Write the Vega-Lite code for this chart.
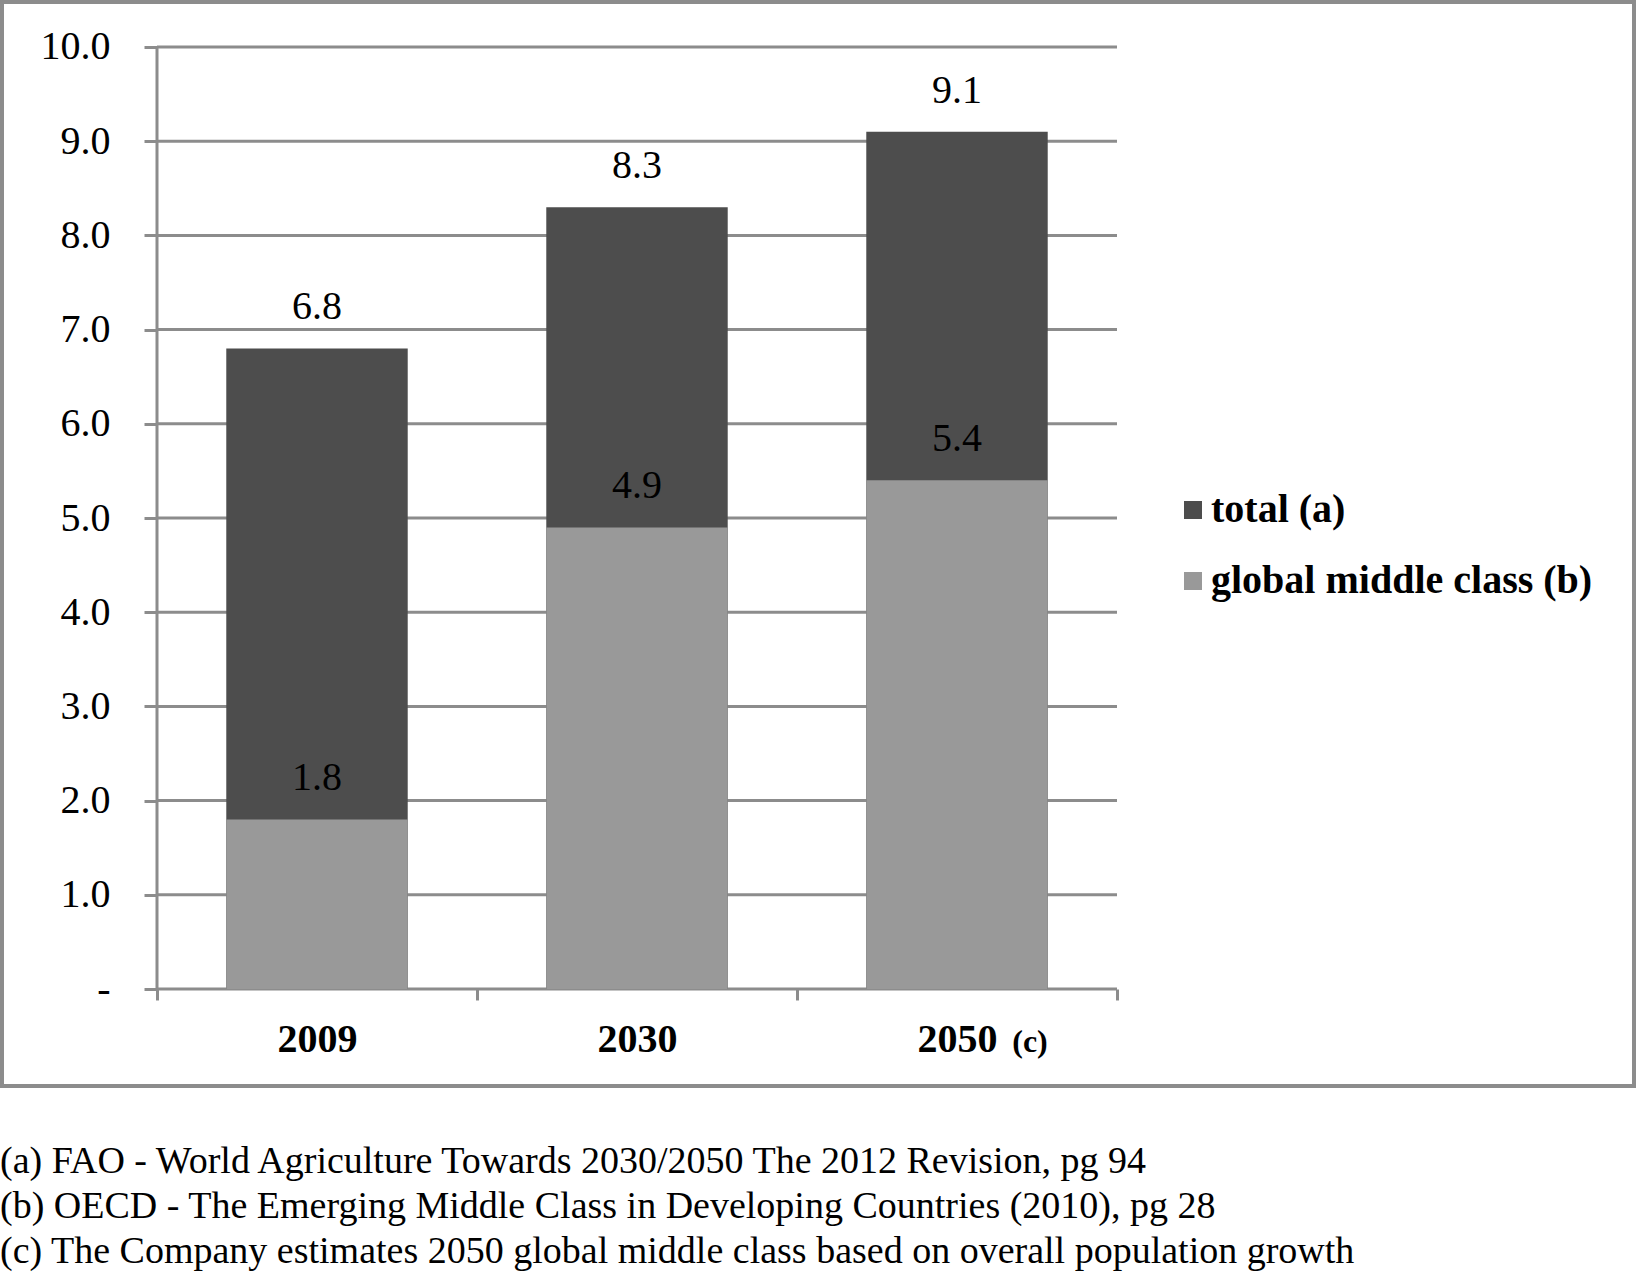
{
  "$schema": "https://vega.github.io/schema/vega-lite/v6.json",
  "autosize": "none",
  "width": 1632,
  "height": 1084,
  "padding": {"left": 2, "top": 2, "right": 3, "bottom": 189},
  "background": "white",
  "config": {
    "view": {"stroke": "#8c8c8c", "strokeWidth": 4},
    "font": "Liberation Serif",
    "axis": {
      "domain": false,
      "grid": false,
      "labelFont": "Liberation Serif",
      "labelColor": "black",
      "labelFontSize": 40,
      "tickColor": "#8c8c8c",
      "tickWidth": 3
    },
    "axisX": {"tickSize": 11, "labelFontWeight": "bold", "labelPadding": 19, "labelAngle": 0},
    "axisY": {"tickSize": 13, "labelPadding": 34}
  },
  "title": {
    "text": [
      "(a) FAO - World Agriculture Towards 2030/2050 The 2012 Revision, pg 94",
      "(b) OECD - The Emerging Middle Class in Developing Countries (2010), pg 28",
      "(c) The Company estimates 2050 global middle class based on overall population growth"
    ],
    "orient": "bottom",
    "anchor": "start",
    "frame": "group",
    "font": "Liberation Serif",
    "fontSize": 38,
    "fontWeight": "normal",
    "color": "black",
    "lineHeight": 45,
    "offset": 57,
    "dx": -2
  },
  "datasets": {
    "bars": [
      {"year": "2009", "series": "total (a)", "value": 6.8},
      {"year": "2030", "series": "total (a)", "value": 8.3},
      {"year": "2050", "series": "total (a)", "value": 9.1},
      {"year": "2009", "series": "global middle class (b)", "value": 1.8},
      {"year": "2030", "series": "global middle class (b)", "value": 4.9},
      {"year": "2050", "series": "global middle class (b)", "value": 5.4}
    ],
    "grid": [
      {"v": 0}, {"v": 1}, {"v": 2}, {"v": 3}, {"v": 4}, {"v": 5},
      {"v": 6}, {"v": 7}, {"v": 8}, {"v": 9}, {"v": 10}
    ]
  },
  "layer": [
    {
      "data": {"name": "grid"},
      "mark": {"type": "rule", "color": "#8c8c8c", "strokeWidth": 3},
      "encoding": {
        "y": {
          "field": "v",
          "type": "quantitative",
          "scale": {"domain": [-1.0297, 10.4777], "nice": false, "zero": false},
          "axis": {
            "orient": "left",
            "offset": -155,
            "values": [0, 1, 2, 3, 4, 5, 6, 7, 8, 9, 10],
            "labelExpr": "datum.value == 0 ? '-' : format(datum.value, '.1f')",
            "title": null
          }
        },
        "x": {
          "datum": "2009",
          "type": "nominal",
          "bandPosition": 0,
          "scale": {"type": "band", "domain": ["2009", "2030", "2050"], "range": [155, 1115], "paddingInner": 0, "paddingOuter": 0}
        },
        "x2": {"datum": "2050", "bandPosition": 1}
      }
    },
    {
      "data": {"name": "bars"},
      "mark": {"type": "bar", "width": {"band": 0.567}},
      "encoding": {
        "x": {
          "field": "year",
          "type": "nominal",
          "sort": null,
          "scale": {"type": "band", "domain": ["2009", "2030", "2050"], "range": [155, 1115], "paddingInner": 0, "paddingOuter": 0},
          "axis": {"orient": "bottom", "offset": -97, "tickBand": "extent", "title": null}
        },
        "y": {"field": "value", "type": "quantitative", "stack": null, "title": null},
        "y2": {"datum": 0},
        "color": {
          "field": "series",
          "type": "nominal",
          "scale": {"domain": ["total (a)", "global middle class (b)"], "range": ["#4d4d4d", "#999999"]},
          "legend": {
            "orient": "none",
            "legendX": 1171,
            "legendY": 488,
            "title": null,
            "labelFont": "Liberation Serif",
            "labelFontSize": 40,
            "labelFontWeight": "bold",
            "labelColor": "black",
            "labelLimit": 0,
            "labelOffset": -2,
            "symbolType": "square",
            "symbolSize": 324,
            "symbolStrokeWidth": 0,
            "rowPadding": 31
          }
        }
      }
    },
    {
      "data": {"name": "grid"},
      "transform": [{"filter": "datum.v == 0"}],
      "mark": {"type": "rule", "color": "#8c8c8c", "strokeWidth": 3},
      "encoding": {
        "x": {"datum": "2009", "type": "nominal", "bandPosition": 0},
        "y": {"datum": 0, "type": "quantitative"},
        "y2": {"datum": 10}
      }
    },
    {
      "data": {"name": "bars"},
      "mark": {"type": "text", "font": "Liberation Serif", "fontSize": 40, "baseline": "middle", "align": "center", "dy": -41, "color": "black"},
      "encoding": {
        "x": {"field": "year", "type": "nominal"},
        "y": {"field": "value", "type": "quantitative", "stack": null},
        "text": {"field": "value", "type": "quantitative", "format": ".1f"}
      }
    },
    {
      "data": {"values": [{"year": "2050", "note": "(c)"}]},
      "mark": {"type": "text", "font": "Liberation Serif", "fontSize": 32, "fontWeight": "bold", "baseline": "middle", "align": "center", "dx": 73, "dy": 53, "color": "black"},
      "encoding": {
        "x": {"field": "year", "type": "nominal"},
        "y": {"datum": 0, "type": "quantitative"},
        "text": {"field": "note"}
      }
    }
  ]
}
